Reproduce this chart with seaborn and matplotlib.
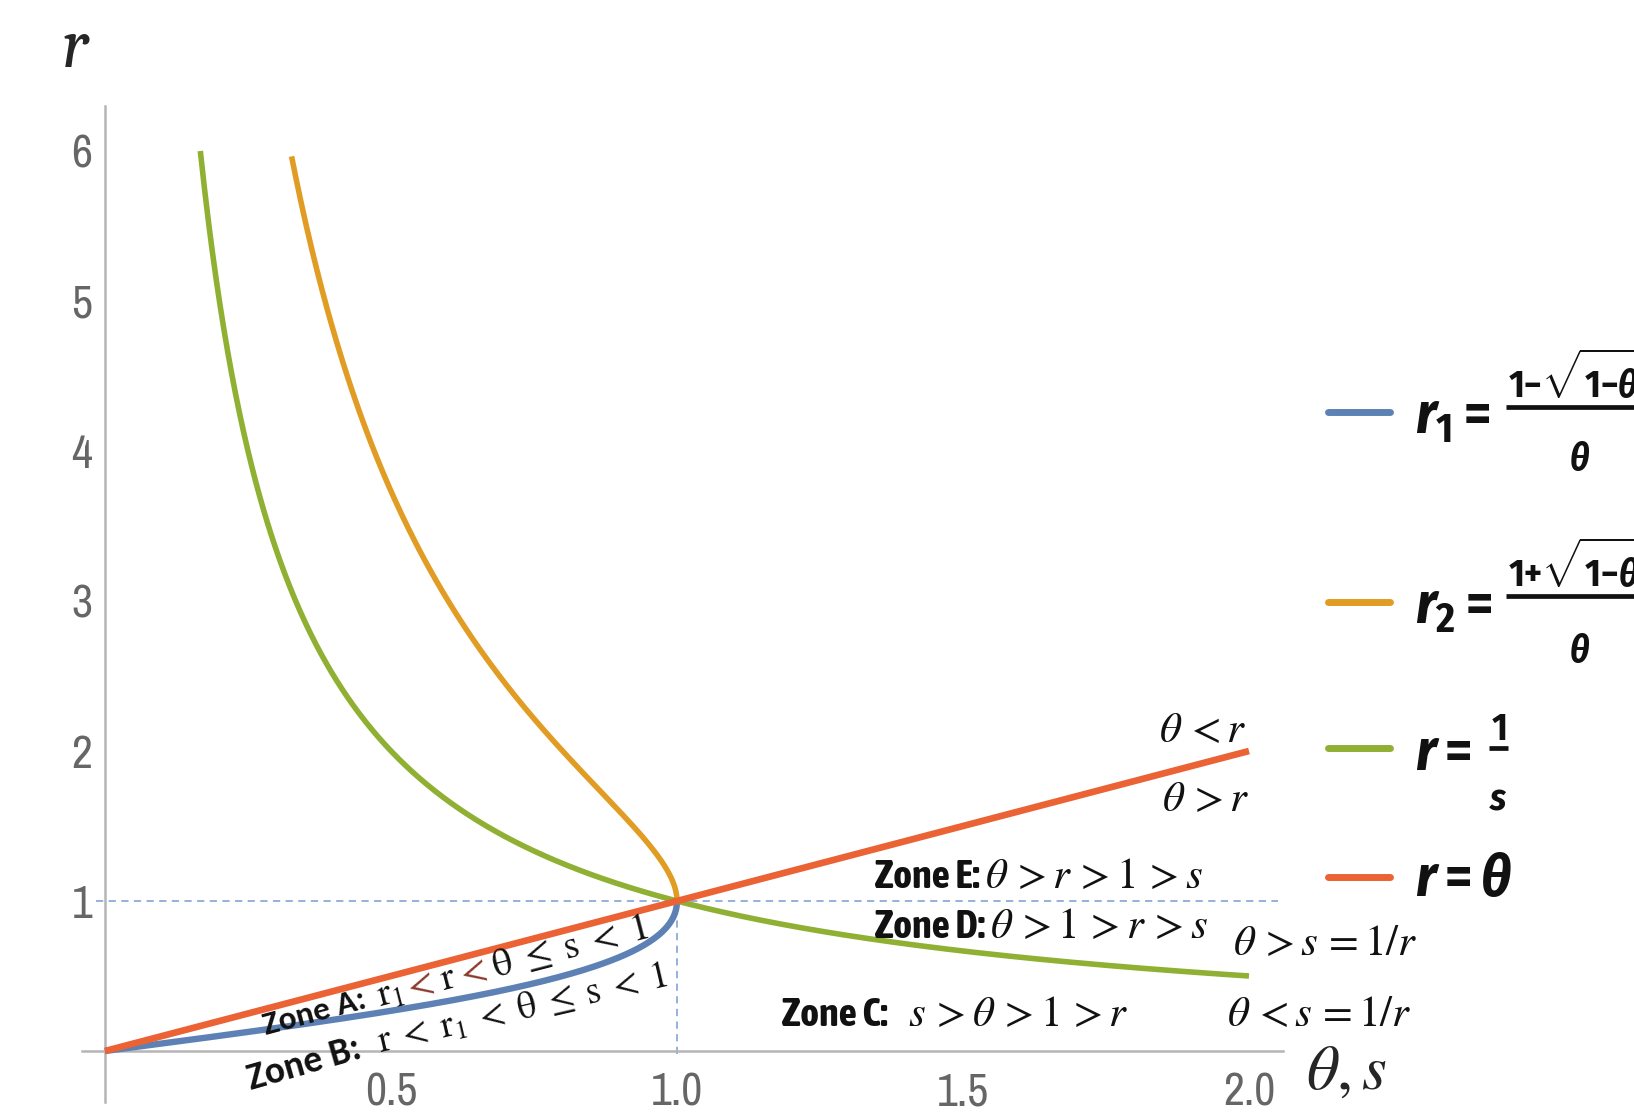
import numpy as np
import matplotlib
matplotlib.use("Agg")
import matplotlib.pyplot as plt
import seaborn as sns
from matplotlib.lines import Line2D
from matplotlib.ticker import FixedLocator
from matplotlib import font_manager

# ---- chart values -------------------------------------------------------
x_ticks = [0.5, 1.0, 1.5, 2.0]
x_tick_labels = ["0.5", "1.0", "1.5", "2.0"]
y_ticks = [1, 2, 3, 4, 5, 6]
y_tick_labels = ["1", "2", "3", "4", "5", "6"]

r_top = 6.0            # curves are cut where r reaches this height
theta_max = 2.0        # right end of r = theta and r = 1/s
theta_line = [0.0, 2.0]
r_line = [0.0, 2.0]
ref_point = [1.0, 1.0]  # where all four curves meet

colors = {
    "r1": "#5E81B5",
    "r2": "#E19C24",
    "inv": "#8FB032",
    "line": "#EB6235",
}

# ---- curves from the formulas in the legend ------------------------------
phi = np.linspace(0.0, np.pi / 2, 800)
th = np.sin(phi)                      # dense near theta = 1 where r1/r2 turn vertical
root = np.sqrt(1.0 - th ** 2)
r1 = th / (1.0 + root)                # (1 - sqrt(1-θ²)) / θ
th_r1 = th

th_min_r2 = 2 * r_top / (1 + r_top ** 2)
mask = th >= th_min_r2
th_r2 = th[mask]
r2 = (1.0 + root[mask]) / th_r2       # (1 + sqrt(1-θ²)) / θ

s_vals = np.linspace(1.0 / r_top, theta_max, 800)
r_inv = 1.0 / s_vals

# ---- fonts ---------------------------------------------------------------
names = {f.name for f in font_manager.fontManager.ttflist}


def pick(cands, default):
    for c in cands:
        if c in names:
            return c
    return default


tick_font = pick(["Archivo Narrow", "Liberation Sans Narrow", "Barlow Condensed"], "Liberation Sans")
legend_font = pick(["Fira Sans Condensed", "Barlow Condensed", "Asap Condensed"], "Liberation Sans")
zone_font = pick(["Asap Condensed", "Fira Sans Condensed", "Barlow Condensed"], "Liberation Sans")
calibri = pick(["Carlito", "Lato"], "DejaVu Sans")
cambria = pick(["Caladea", "Liberation Serif"], "DejaVu Serif")

sns.set_theme(style="white")
plt.rcParams["font.family"] = ["DejaVu Sans"]
plt.rcParams["mathtext.fontset"] = "stix"
plt.rcParams["mathtext.rm"] = f"{legend_font}:bold"
plt.rcParams["mathtext.it"] = f"{legend_font}:italic:bold"
plt.rcParams["mathtext.bf"] = f"{legend_font}:bold"
plt.rcParams["mathtext.sf"] = f"{legend_font}:bold"

W, H = 1634, 1113
fig = plt.figure(figsize=(W / 100, H / 100), dpi=100)
fig.patch.set_facecolor("white")

# axes placed so that x=0 sits at 105 px and y=0 at 1051 px
x0_px, x_unit = 105.0, 572.0
y0_px, y_unit = 1051.0, 150.0
xlim = (-0.04, 2.06)
ylim = (-0.34, 6.3)
left = (x0_px + xlim[0] * x_unit) / W
right = (x0_px + xlim[1] * x_unit) / W
top = (y0_px - ylim[1] * y_unit)
bottom = (y0_px - ylim[0] * y_unit)
ax = fig.add_axes([left, 1 - bottom / H, right - left, (bottom - top) / H])
ax.set_facecolor("none")

# ---- data lines ----------------------------------------------------------
dash = (0, (4, 3))
ax.plot([-0.015, 2.05], [ref_point[1], ref_point[1]], ls=dash, color="#8eaadb", lw=1.3, zorder=1)
ax.plot([ref_point[0], ref_point[0]], [-0.02, ref_point[1]], ls=dash, color="#8eaadb", lw=1.3, zorder=1)

sns.lineplot(x=th_r1, y=r1, ax=ax, color=colors["r1"], linewidth=4.6,
             sort=False, estimator=None, solid_capstyle="butt", zorder=3)
sns.lineplot(x=th_r2, y=r2, ax=ax, color=colors["r2"], linewidth=4.0,
             sort=False, estimator=None, solid_capstyle="butt", zorder=3)
sns.lineplot(x=s_vals, y=r_inv, ax=ax, color=colors["inv"], linewidth=4.0,
             sort=False, estimator=None, solid_capstyle="butt", zorder=4)
sns.lineplot(x=theta_line, y=r_line, ax=ax, color=colors["line"], linewidth=4.8,
             sort=False, estimator=None, solid_capstyle="butt", zorder=5)

# ---- axes styling --------------------------------------------------------
ax.set_xlim(*xlim)
ax.set_ylim(*ylim)
ax.set_xlabel("")
ax.set_ylabel("")
for side in ("top", "right"):
    ax.spines[side].set_visible(False)
ax.spines["left"].set_position(("data", 0))
ax.spines["bottom"].set_position(("data", 0))
ax.spines["left"].set_bounds(ylim[0], ylim[1])
ax.spines["bottom"].set_bounds(xlim[0], xlim[1])
for side in ("left", "bottom"):
    ax.spines[side].set_color("#b5b5b5")
    ax.spines[side].set_linewidth(1.8)

ax.xaxis.set_major_locator(FixedLocator(x_ticks))
ax.set_xticklabels(x_tick_labels)
ax.xaxis.set_minor_locator(FixedLocator(np.round(np.arange(0.1, 2.01, 0.1), 2)))
ax.yaxis.set_major_locator(FixedLocator(y_ticks))
ax.set_yticklabels(y_tick_labels)
ax.yaxis.set_minor_locator(FixedLocator(np.round(np.arange(-0.2, 6.21, 0.2), 2)))

ax.tick_params(axis="both", which="both", direction="in", color="#a8a8a8",
               labelcolor="#666666", labelsize=33)
ax.tick_params(axis="both", which="major", length=12, width=1.4)
ax.tick_params(axis="both", which="minor", length=7, width=1.1)
ax.tick_params(axis="x", which="major", pad=15)
ax.tick_params(axis="y", which="major", pad=9)
for lab in ax.get_xticklabels() + ax.get_yticklabels():
    lab.set_fontfamily(tick_font)

# ---- text helpers ----------------------------------------------------------
renderer = fig.canvas.get_renderer()


def fx(x):
    return x / W


def fy(y):
    return 1 - y / H


def text_run(x, y, angle, pieces):
    """Lay out pieces of text one after another along a rotated baseline."""
    a = np.deg2rad(angle)
    for s, kw in pieces:
        fig.text(fx(x), fy(y), s, rotation=angle, rotation_mode="anchor",
                 ha="left", va="baseline", **kw)
        probe = fig.text(0, 0, s, ha="left", va="baseline", **kw)
        w = probe.get_window_extent(renderer).width
        probe.remove()
        x += w * np.cos(a)
        y -= w * np.sin(a)
    return x, y


zone_bold = dict(family=zone_font, fontweight="bold", fontsize=29, color="#111111")
zone_a = dict(family=calibri, fontweight="bold", fontsize=24, color="#111111")
zone_b = dict(family=calibri, fontweight="bold", fontsize=27, color="#111111")
math_kw = dict(fontsize=31, color="#111111", math_fontfamily="stix")
math_a = dict(fontsize=28, color="#111111", math_fontfamily="stix")
brown_a = dict(fontsize=28, color="#8a3b2b", math_fontfamily="stix")
math_b = dict(fontsize=27, color="#111111", math_fontfamily="stix")

# axis titles
fig.text(fx(62), fy(67), "r", family=cambria, style="italic", fontsize=50,
         ha="left", va="baseline")
fig.text(fx(1306), fy(1089), r"$\theta, s$", fontsize=46, math_fontfamily="stix",
         ha="left", va="baseline")

# side labels of r = theta
fig.text(fx(1159), fy(742), r"$\theta\, < r$", **math_kw, ha="left", va="baseline")
fig.text(fx(1162), fy(811), r"$\theta\, > r$", **math_kw, ha="left", va="baseline")

# zones to the right of theta = 1
text_run(875, 888, 0, [("Zone E:", zone_bold), (r"$\,\theta\, > r\, > 1\, > s$", math_kw)])
text_run(875, 938, 0, [("Zone D:", zone_bold), (r"$\,\theta\, > 1\, > r\, > s$", math_kw)])
text_run(782, 1026, 0, [("Zone C:", zone_bold), (r"$\ \ s\, > \theta\, > 1\, > r$", math_kw)])
fig.text(fx(1233), fy(955), r"$\theta\, > s\, = 1/r$", **math_kw, ha="left", va="baseline")
fig.text(fx(1227), fy(1026), r"$\theta\, < s\, = 1/r$", **math_kw, ha="left", va="baseline")

# zones between r1 and r = theta
sp = r"\;"
text_run(266, 1035, 15, [("Zone A:", zone_a)])
text_run(380, 1007, 14.5, [(r"$\mathrm{r}_1" + sp + "$", math_a), (r"$<$", brown_a),
                           (r"$" + sp + r"\mathrm{r}" + sp + "$", math_a), (r"$<$", brown_a),
                           (r"$" + sp + r"\mathrm{\theta}" + sp + r"\leq" + sp + r"\mathrm{s}"
                            + sp + "<" + sp + "1$", math_a)])
text_run(251, 1090, 16, [("Zone B:", zone_b)])
text_run(380, 1053, 13, [(r"$\mathrm{r}" + sp + "<" + sp + r"\mathrm{r}_1" + sp + "<" + sp
                          + r"\mathrm{\theta}" + sp + r"\leq" + sp + r"\mathrm{s}" + sp + "<"
                          + sp + "1$", math_b)])

# ---- legend ---------------------------------------------------------------
leg_kw = dict(fontsize=42, math_fontfamily="custom", color="#111111")
frac_kw = dict(fontsize=27, math_fontfamily="custom", color="#111111")

legend_rows = [
    # colour, handle y, left part, its baseline, numerator, num x, num baseline,
    # bar y, bar x range, denominator, den centre x, den baseline
    (colors["r1"], 412, r"$r_1 =$", 434, r"$1{-}\sqrt{1{-}\theta^2}$", 1508, 398,
     407, (1506, 1660), r"$\theta$", 1580, 470),
    (colors["r2"], 602, r"$r_2 =$", 624, r"$1{+}\sqrt{1{-}\theta^2}$", 1508, 587,
     596, (1506, 1660), r"$\theta$", 1580, 662),
    (colors["inv"], 748, r"$r =$", 770, r"$1$", 1491, 740,
     748, (1489, 1508), r"$s$", 1498, 810),
    (colors["line"], 877, r"$r = \theta$", 896, None, None, None,
     None, None, None, None, None),
]
for (c, yl, lab, yb, num, xn, yn, ybar, xbar, den, xd, yd) in legend_rows:
    fig.add_artist(Line2D([fx(1328), fx(1390)], [fy(yl), fy(yl)], transform=fig.transFigure,
                          color=c, lw=5, solid_capstyle="round"))
    fig.text(fx(1415), fy(yb), lab, ha="left", va="baseline", **leg_kw)
    if num is not None:
        fig.text(fx(xn), fy(yn), num, ha="left", va="baseline", **frac_kw)
        fig.add_artist(Line2D([fx(xbar[0]), fx(xbar[1])], [fy(ybar), fy(ybar)],
                              transform=fig.transFigure, color="#111111", lw=3.4,
                              solid_capstyle="butt"))
        fig.text(fx(xd), fy(yd), den, ha="center", va="baseline", **frac_kw)

fig.savefig("out.png", dpi=100, facecolor="white")
